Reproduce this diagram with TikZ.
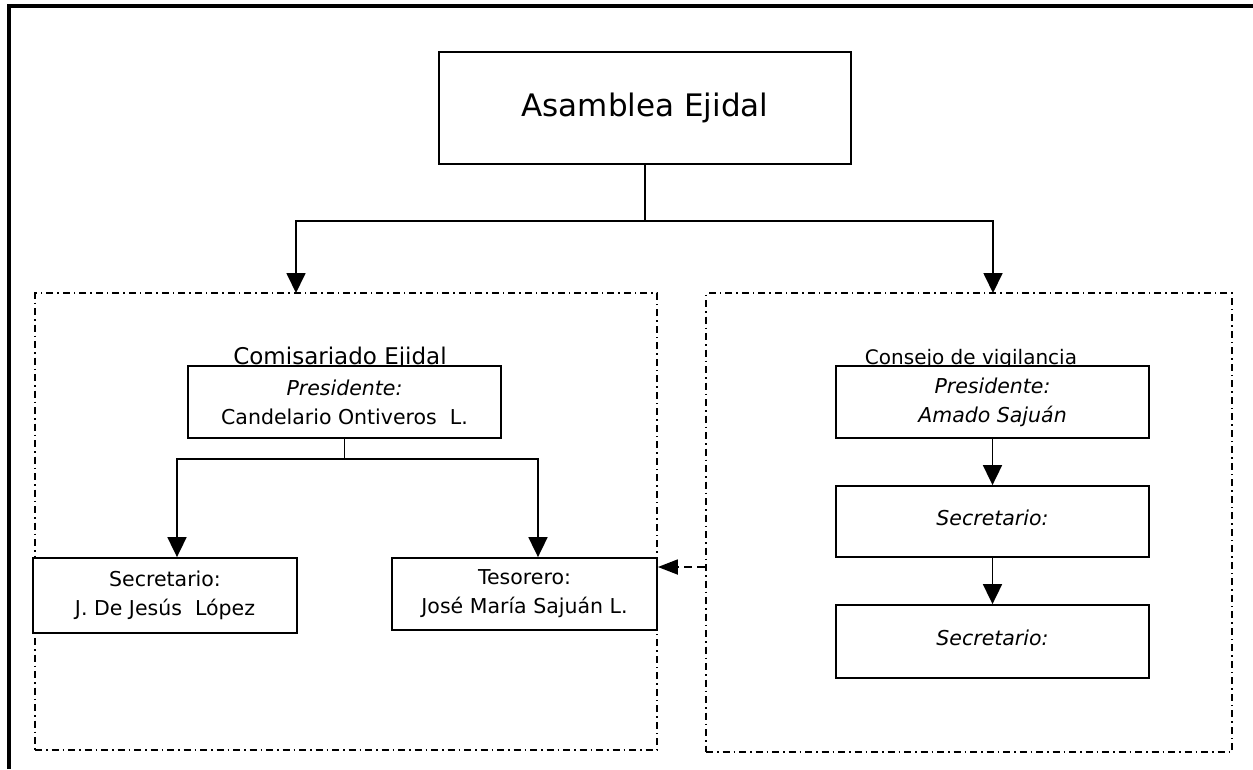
\documentclass[tikz,border=0pt]{standalone}
\usepackage{fontspec}
\setmainfont{DejaVu Sans}
\usetikzlibrary{arrows.meta}
\begin{document}
\begin{tikzpicture}[x=1pt,y=-1pt,line join=miter,line width=1.8pt,>={Triangle[length=20pt,width=19pt]}]
		\tikzset{caja/.style={draw,fill=white,align=center,inner sep=0pt,minimum width=313pt,minimum height=72pt,font=\fontsize{20.5}{29}\selectfont},
			grupo/.style={draw,line width=1.6pt,dash pattern=on 7pt off 4pt on 1.5pt off 4pt,inner sep=0pt},
			titulo/.style={anchor=base,inner sep=0pt}}
		\useasboundingbox (0,0) rectangle (1253,769);
		\draw[line width=3.2pt] (9,769)--(9,6)--(1253,6);
		% grupos
		\node[grupo,minimum width=622pt,minimum height=457pt] (grpL) at (346,521.5) {};
		\node[grupo,minimum width=526pt,minimum height=459pt] (grpR) at (969,522.5) {};
		\node[titulo,font=\fontsize{23}{26}\selectfont] (tituloL) at (340,364) {Comisariado Ejidal};
		\node[titulo,font=\fontsize{20}{24}\selectfont] (tituloR) at (971,364) {Consejo de vigilancia};
		% cajas
		\node[caja,minimum width=412pt,minimum height=112pt,font=\fontsize{31}{36}\selectfont] (asamblea) at (645,108) {Asamblea Ejidal};
		\node[caja] (pres1) at (344.5,402) {\textit{Presidente:}\\Candelario Ontiveros\ \ L.};
		\node[caja,minimum width=264pt,minimum height=75pt] (sec1) at (165,595.5) {Secretario:\\J. De Jesús\ \ López};
		\node[caja,minimum width=265pt] (tes1) at (524.5,594) {Tesorero:\\José María Sajuán L.};
		\node[caja] (pres2) at (992.5,402) {\textit{Presidente:}\\\textit{Amado Sajuán}};
		\node[caja,minimum height=71pt] (sec2) at (992.5,521.5) {\raisebox{7pt}{\textit{Secretario:}}};
		\node[caja,minimum height=73pt] (sec3) at (992.5,641.5) {\raisebox{7pt}{\textit{Secretario:}}};
		% conectores
		\coordinate (flechaL) at (296,293);
		\coordinate (flechaR) at (993,293);
		\draw[->] (asamblea.south) -- ++(0,56) -| (flechaL);
		\draw[->] (asamblea.south) -- ++(0,56) -| (flechaR);
		\draw[->] (pres1.south) -- ++(0,20) -| ([xshift=12pt]sec1.north);
		\draw[->] (pres1.south) -- ++(0,20) -| ([xshift=13.5pt]tes1.north);
		\draw[->] (pres2) -- (sec2);
		\draw[->] (sec2) -- (sec3);
		\coordinate (punta) at ([yshift=27pt]tes1.east);
		\draw[->,dash pattern=on 8pt off 5pt,>={Triangle[length=20pt,width=15pt]}] (punta -| grpR.west) -- (punta);
		\end{tikzpicture}
\end{document}
